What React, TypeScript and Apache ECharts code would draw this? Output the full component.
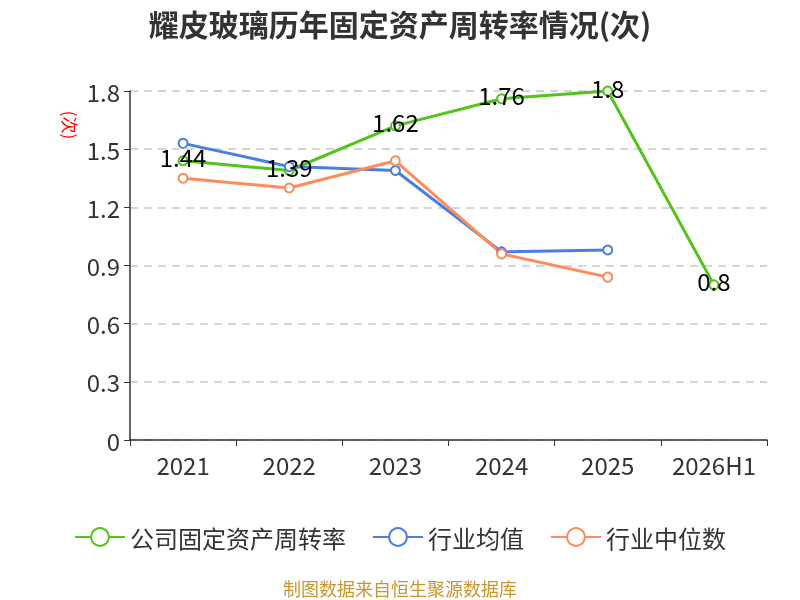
import React, { useEffect, useRef } from "react";
import * as echarts from "echarts";

const categories = ["2021", "2022", "2023", "2024", "2025", "2026H1"];
const companyValues = [1.44, 1.39, 1.62, 1.76, 1.8, 0.8];
const industryAvg = [1.53, 1.41, 1.39, 0.97, 0.98, null];
const industryMedian = [1.35, 1.3, 1.44, 0.96, 0.84, null];
const seriesNames = ["公司固定资产周转率", "行业均值", "行业中位数"];

export default function App() {
  const ref = useRef<HTMLDivElement>(null);
  useEffect(() => {
    const chart = echarts.init(ref.current!, null, { renderer: "svg" });
    const font = "'Microsoft YaHei', 'Noto Sans CJK SC', sans-serif";
    chart.setOption({
      animation: false,
      title: {
        text: "耀皮玻璃历年固定资产周转率情况(次)",
        left: "center",
        top: 3,
        textStyle: { fontSize: 30, fontWeight: "bold", color: "#333", fontFamily: font },
      },
      graphic: [
        {
          type: "text",
          x: 400,
          y: 588,
          style: { text: "制图数据来自恒生聚源数据库", fill: "#c8962e", fontSize: 18, fontFamily: font, align: "center", verticalAlign: "middle" },
        },
        {
          type: "text",
          x: 70,
          y: 125,
          rotation: -Math.PI / 2,
          style: { text: "(次)", fill: "red", fontSize: 17, fontFamily: font, align: "center", verticalAlign: "middle" },
        },
      ],
      legend: {
        bottom: 46,
        left: "center",
        itemWidth: 50,
        itemHeight: 22,
        itemGap: 26,
        textStyle: { fontSize: 24, color: "#333", fontFamily: font },
        data: seriesNames,
      },
      grid: { left: 130, right: 33, top: 91, bottom: 160 },
      xAxis: {
        type: "category",
        data: categories,
        boundaryGap: true,
        axisLine: { lineStyle: { color: "#333", width: 1.5 } },
        axisTick: { show: true, length: 6, alignWithLabel: false, lineStyle: { color: "#333" } },
        axisLabel: { interval: 0, fontSize: 24, color: "#333", margin: 12, fontFamily: font },
      },
      yAxis: {
        type: "value",
        min: 0,
        max: 1.8,
        interval: 0.3,
        axisLine: { show: true, lineStyle: { color: "#333", width: 1.5 } },
        axisTick: { show: true, length: 6, lineStyle: { color: "#333" } },
        axisLabel: { fontSize: 24, color: "#333", margin: 10, fontFamily: font },
        splitLine: { lineStyle: { type: [8, 6], color: "#c8c8c8", width: 1.5 } },
      },
      series: [
        {
          name: seriesNames[0],
          type: "line",
          data: companyValues,
          symbol: "emptyCircle",
          symbolSize: 9,
          lineStyle: { color: "#52c41a", width: 3 },
          itemStyle: { color: "#52c41a" },
          label: { show: true, position: "inside", offset: [0, -4], fontSize: 24, color: "#000", fontFamily: font },
          z: 3,
        },
        {
          name: seriesNames[1],
          type: "line",
          data: industryAvg,
          symbol: "emptyCircle",
          symbolSize: 9,
          lineStyle: { color: "#4a7ee0", width: 3 },
          itemStyle: { color: "#4a7ee0" },
        },
        {
          name: seriesNames[2],
          type: "line",
          data: industryMedian,
          symbol: "emptyCircle",
          symbolSize: 9,
          lineStyle: { color: "#ff8a5b", width: 3 },
          itemStyle: { color: "#ff8a5b" },
        },
      ],
    });
    return () => chart.dispose();
  }, []);
  return <div ref={ref} style={{ position: "fixed", left: 0, top: 0, width: 800, height: 600 }} />;
}
